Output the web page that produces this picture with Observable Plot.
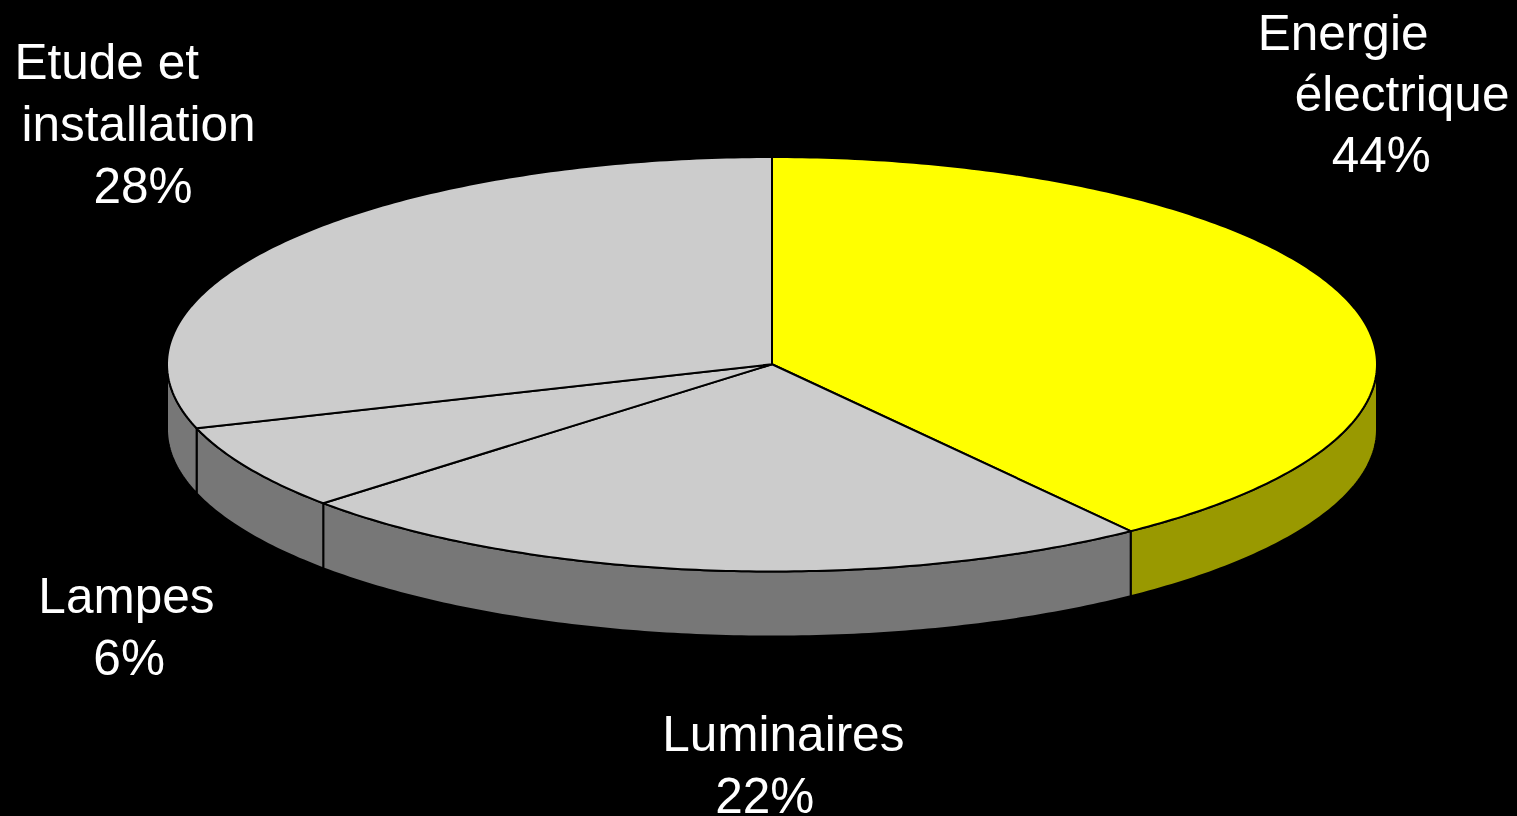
<!DOCTYPE html>
<html>
<head>
<meta charset="utf-8">
<style>html,body{margin:0;padding:0;background:#000;overflow:hidden}</style>
<script src="https://cdn.jsdelivr.net/npm/d3@7"></script>
<script src="https://cdn.jsdelivr.net/npm/@observablehq/plot@0.6"></script>
</head>
<body>
<div id="chart"></div>
<script>
// Printed labels
const categories = ["Energie électrique", "Luminaires", "Lampes", "Etude et installation"];
const percentLabels = ["44%", "22%", "6%", "28%"];
// Share of the drawn ellipse each slice occupies (%)
const drawnShares = [39.9, 23.4, 6.7, 30.0];
const topColors = ["#ffff00", "#cccccc", "#cccccc", "#cccccc"];
const sideColors = ["#999900", "#777777", "#777777", "#777777"];
const depth = 0.314; // pie thickness in units of the minor radius

// Slice boundaries, clockwise from twelve o'clock
const ends = d3.cumsum(drawnShares);
const slices = categories.map((name, i) => ({
  name, top: topColors[i], side: sideColors[i],
  a0: (i ? ends[i - 1] : 0) / 100 * 2 * Math.PI,
  a1: ends[i] / 100 * 2 * Math.PI
}));
const rim = (a, drop = 0) => ({x: Math.sin(a), y: Math.cos(a) - drop});
const arc = (a0, a1, drop = 0) => {
  const n = Math.max(2, Math.ceil((a1 - a0) * 80));
  return d3.range(n + 1).map(k => rim(a0 + (a1 - a0) * k / n, drop));
};

const topRows = slices.flatMap(s =>
  [{x: 0, y: 0}, ...arc(s.a0, s.a1), {x: 0, y: 0}].map(p => ({...p, id: s.name, color: s.top})));

// Only the front half of the rim (quarter past to quarter to) shows a wall
const sideRows = slices.flatMap(s => {
  const a0 = Math.max(s.a0, Math.PI / 2), a1 = Math.min(s.a1, 3 * Math.PI / 2);
  if (a1 <= a0) return [];
  const front = arc(a0, a1);
  const back = arc(a0, a1, depth).reverse();
  return [...front, ...back, front[0]].map(p => ({...p, id: s.name, color: s.side}));
});

const mid = i => rim((slices[i].a0 + slices[i].a1) / 2);
const label = (i, text, dx, dy) => Plot.text([mid(i)], {
  x: "x", y: "y", text: () => text, dx, dy,
  textAnchor: "start", lineAnchor: "bottom",
  fill: "#ffffff", fontSize: 49.5, fontFamily: "Liberation Sans, Arial, sans-serif"
});

const plot = Plot.plot({
  width: 1517,
  height: 816,
  margin: 0,
  style: {background: "#000000"},
  x: {domain: [-1, 1], range: [166.5, 1376.5], axis: null},
  y: {domain: [1, -1], range: [156.5, 571], axis: null},
  color: {type: "identity"},
  marks: [
    Plot.line(sideRows, {x: "x", y: "y", z: "id", fill: "color", stroke: "#000000", strokeWidth: 2}),
    Plot.line(topRows, {x: "x", y: "y", z: "id", fill: "color", stroke: "#000000", strokeWidth: 2}),
    label(0, "Energie", -89, -250),
    label(0, "électrique", -52, -189),
    label(0, percentLabels[0], -15, -128),
    label(1, "Luminaires", -49, 181),
    label(1, percentLabels[1], 4, 243),
    label(2, "Lampes", -210, 144.5),
    label(2, percentLabels[2], -155, 206.5),
    label(3, "Etude et", -268, -163.5),
    label(3, "installation", -261, -101.5),
    label(3, percentLabels[3], -189, -39.5)
  ]
});
document.getElementById("chart").append(plot);
</script>
</body>
</html>
